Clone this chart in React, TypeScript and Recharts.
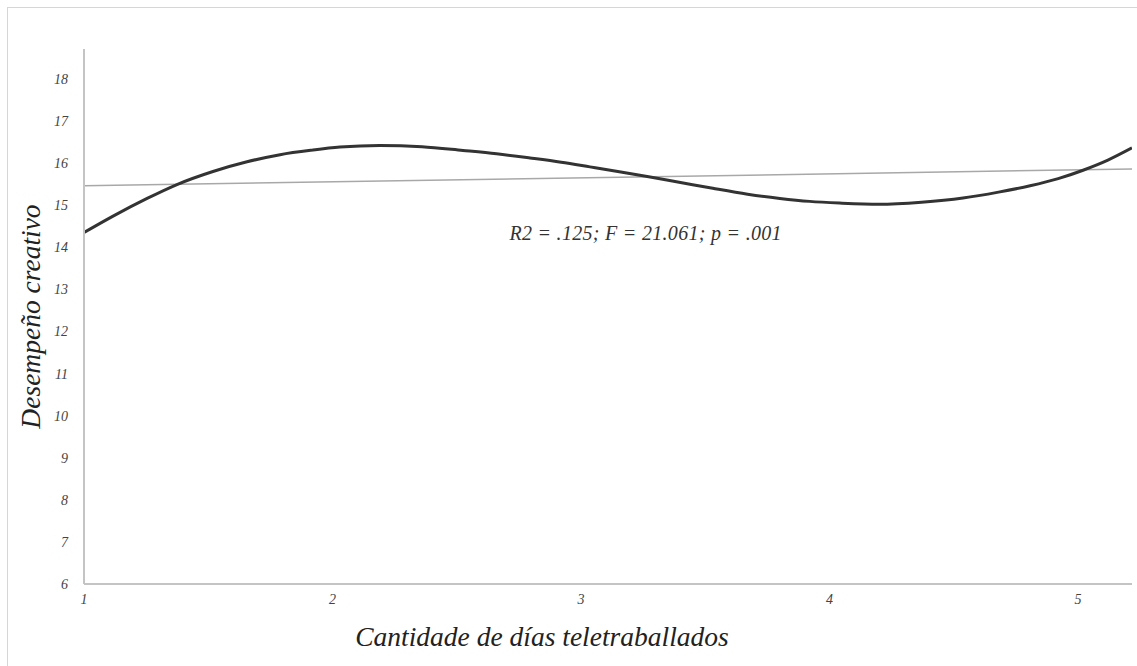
import React from "react";
import { LineChart, Line, XAxis, YAxis, ReferenceDot } from "recharts";

// Cubic fit
const cubicX = [1.0, 1.117, 1.254, 1.374, 1.519, 1.656, 1.789, 1.922, 2.03, 2.19, 2.36, 2.525, 2.66, 2.795, 2.92, 3.036, 3.16, 3.278, 3.4, 3.53, 3.67, 3.8, 3.92, 4.04, 4.2, 4.37, 4.537, 4.68, 4.807, 4.92, 5.02, 5.12, 5.217];
const cubicY = [14.35, 14.74, 15.16, 15.49, 15.8, 16.03, 16.2, 16.31, 16.38, 16.42, 16.39, 16.3, 16.22, 16.12, 16.02, 15.91, 15.79, 15.67, 15.54, 15.4, 15.26, 15.16, 15.09, 15.05, 15.02, 15.07, 15.17, 15.31, 15.46, 15.63, 15.83, 16.07, 16.36];

// Linear fit
const linearX = [1.0, 5.217];
const linearY = [15.46, 15.86];

const xTicks = [1, 2, 3, 4, 5];
const yTicks = [6, 7, 8, 9, 10, 11, 12, 13, 14, 15, 16, 17, 18];
const xDomain = [1, 5.217];
const yDomain = [6, 18.71];

const annotation = "R2 = .125; F = 21.061; p = .001";
const annotationPos = { x: 3.26, y: 14.34 };
const xLabel = "Cantidade de días teletraballados";
const yLabel = "Desempeño creativo";

const cubicData = cubicX.map((x, i) => ({ x, y: cubicY[i] }));
const linearData = linearX.map((x, i) => ({ x, y: linearY[i] }));

const FONT = "'Liberation Serif', 'Times New Roman', serif";
const AXIS_COLOR = "#c4c4c4";
const TICK_STYLE = { fill: "#444", fontSize: 14, fontStyle: "italic", fontFamily: FONT };

export default function App() {
  return (
    <div style={{ position: "absolute", left: 0, top: 0, width: 1137, height: 666, background: "#fff" }}>
      <div
        style={{
          position: "absolute",
          left: 7,
          top: 7,
          width: 1130,
          height: 659,
          borderTop: "1px solid #d6d6d6",
          borderLeft: "1px solid #d6d6d6",
          boxSizing: "border-box",
        }}
      />
      <div style={{ position: "absolute", left: 0, top: 0 }}>
        <LineChart width={1137} height={666} margin={{ top: 49, right: 5, bottom: 42, left: 0 }}>
          <XAxis
            dataKey="x"
            type="number"
            domain={xDomain}
            ticks={xTicks}
            allowDataOverflow
            axisLine={{ stroke: AXIS_COLOR, strokeWidth: 2 }}
            tickLine={false}
            height={40}
            tickMargin={4}
            tick={TICK_STYLE}
            label={{
              value: xLabel,
              position: "insideBottom",
              offset: -22,
              dx: -66,
              style: { fill: "#222", fontSize: 27.5, fontStyle: "italic", fontFamily: FONT },
            }}
          />
          <XAxis
            xAxisId="top"
            orientation="top"
            dataKey="x"
            type="number"
            domain={xDomain}
            allowDataOverflow
            height={0}
            tick={false}
            tickLine={false}
            axisLine={{ stroke: "#dcdcdc", strokeWidth: 1.5 }}
          />
          <YAxis
            type="number"
            domain={yDomain}
            ticks={yTicks}
            allowDataOverflow
            width={84}
            axisLine={{ stroke: AXIS_COLOR, strokeWidth: 2 }}
            tickLine={false}
            tickMargin={10}
            tick={TICK_STYLE}
            label={{
              value: yLabel,
              angle: -90,
              position: "insideLeft",
              offset: 30,
              style: { fill: "#222", fontSize: 27.5, fontStyle: "italic", fontFamily: FONT, textAnchor: "middle" },
            }}
          />
          <YAxis
            yAxisId="right"
            orientation="right"
            type="number"
            domain={yDomain}
            allowDataOverflow
            width={0}
            tick={false}
            tickLine={false}
            axisLine={{ stroke: "#cfcfcf", strokeWidth: 2 }}
          />
          <Line
            data={linearData}
            dataKey="y"
            type="linear"
            stroke="#a8a8a8"
            strokeWidth={1.5}
            dot={false}
            activeDot={false}
            isAnimationActive={false}
          />
          <Line
            data={cubicData}
            dataKey="y"
            type="monotone"
            stroke="#333"
            strokeWidth={3}
            dot={false}
            activeDot={false}
            isAnimationActive={false}
          />
          <ReferenceDot
            x={annotationPos.x}
            y={annotationPos.y}
            r={0}
            fill="none"
            stroke="none"
            label={{
              value: annotation,
              position: "center",
              style: { fill: "#333", fontSize: 20, letterSpacing: 0.3, fontStyle: "italic", fontFamily: FONT },
            }}
          />
        </LineChart>
      </div>
    </div>
  );
}
